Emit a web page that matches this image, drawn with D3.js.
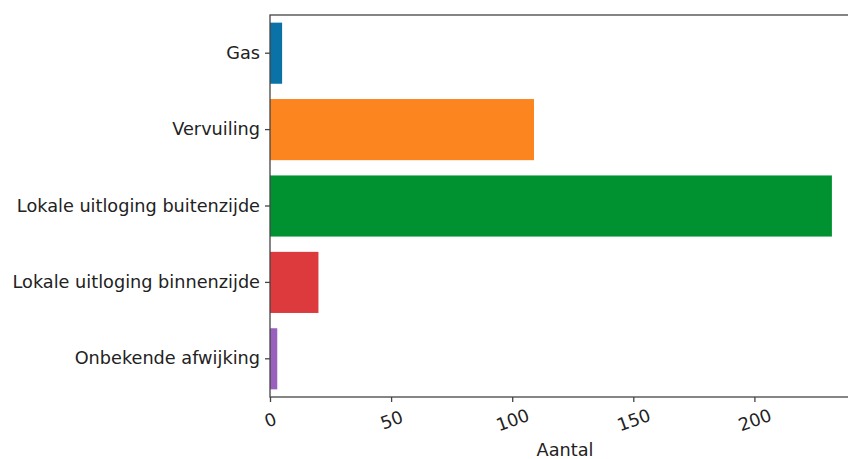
<!DOCTYPE html>
<html><head><meta charset="utf-8">
<script src="https://cdn.jsdelivr.net/npm/d3@7/dist/d3.min.js"></script>
<style>body{margin:0;background:#fff}svg{display:block}text{font-family:"DejaVu Sans",sans-serif;fill:#222}</style>
</head><body>
<svg id="c" width="848" height="459"></svg>
<script>
const categories = ["Gas","Vervuiling","Lokale uitloging buitenzijde","Lokale uitloging binnenzijde","Onbekende afwijking"];
const values = [5, 109, 232, 20, 3];
const colors = ["#0b72a8","#fc8520","#009230","#dc3a3c","#9a60bd"];
const xTicks = [0, 50, 100, 150, 200];
const xLabel = "Aantal";

const svg = d3.select("#c");
const L = 270, R = 860, T = 15, B = 397;
const FS = "17.7px";
const x = d3.scaleLinear().domain([0, d3.max(values) * 1.05]).range([L, R]);
const y = d3.scaleBand().domain(categories).range([T, B]).paddingInner(0.2).paddingOuter(0.1);

svg.append("g").selectAll("rect").data(categories).join("rect")
  .attr("x", x(0)).attr("y", d => y(d))
  .attr("width", (d, i) => x(values[i]) - x(0))
  .attr("height", y.bandwidth())
  .attr("fill", (d, i) => colors[i]);

// frame
svg.append("rect").attr("x", L).attr("y", T).attr("width", R - L).attr("height", B - T)
  .attr("fill", "none").attr("stroke", "#444").attr("stroke-width", 1.3);

// y axis
const ya = svg.append("g").attr("transform", `translate(${L},0)`)
  .call(d3.axisLeft(y).tickSize(5).tickPadding(5));
ya.select(".domain").remove();
ya.selectAll("line").attr("stroke", "#444").attr("stroke-width", 1.3);
ya.selectAll("text").style("font-size", FS).attr("fill", "#222");

// x axis
const xa = svg.append("g").attr("transform", `translate(0,${B})`)
  .call(d3.axisBottom(x).tickValues(xTicks).tickSize(5).tickFormat(d3.format("d")));
xa.select(".domain").remove();
xa.selectAll("line").attr("stroke", "#444").attr("stroke-width", 1.3);
xa.selectAll("text").style("font-size", FS).attr("fill", "#222")
  .attr("text-anchor", "middle").attr("y", 0).attr("dy", "0.35em")
  .attr("transform", "translate(0,23) rotate(-20)");

svg.append("text").attr("x", (L + R) / 2).attr("y", 456).attr("text-anchor", "middle")
  .style("font-size", FS).text(xLabel);
</script>
</body></html>
